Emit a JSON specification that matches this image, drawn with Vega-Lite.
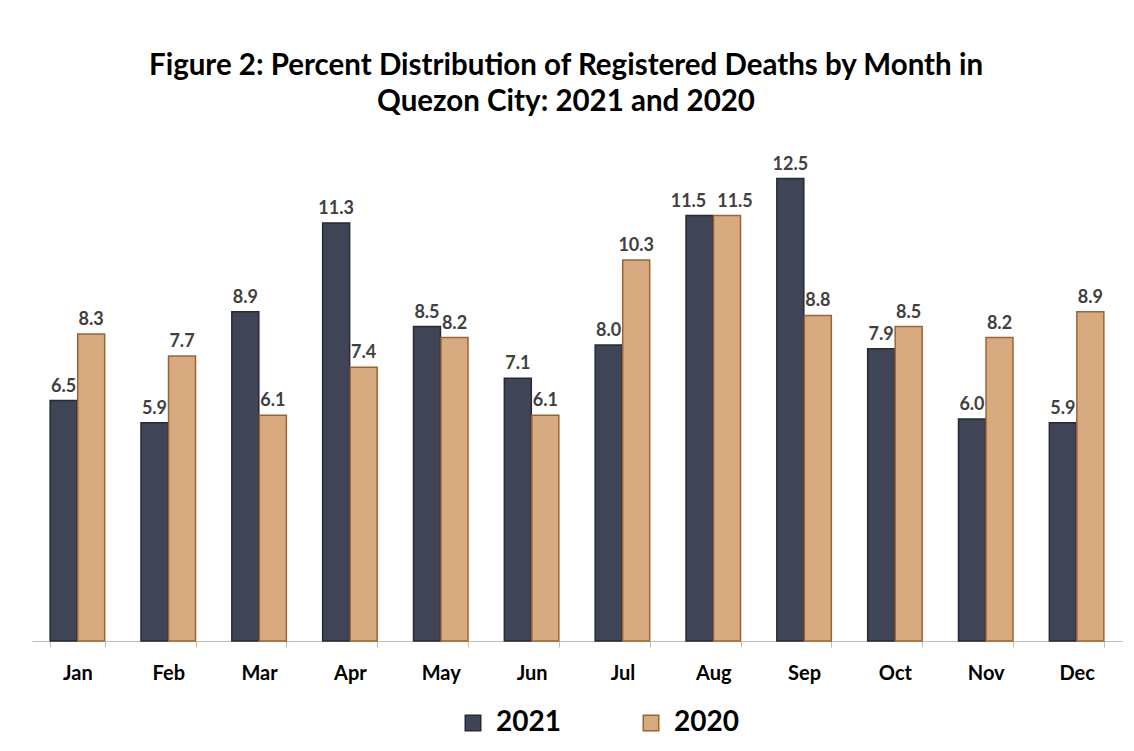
{
  "$schema": "https://vega.github.io/schema/vega-lite/v6.json",
  "width": 1090,
  "height": 518,
  "padding": {"left": 32, "top": 50, "right": 12, "bottom": 10},
  "background": "white",
  "config": {"view": {"stroke": null}},
  "title": {
    "text": ["Figure 2: Percent Distribution of Registered Deaths by Month in", "Quezon City: 2021 and 2020"],
    "font": "Lato",
    "fontSize": 29.5,
    "fontWeight": "bold",
    "color": "#000000",
    "lineHeight": 36,
    "anchor": "middle",
    "dx": -11,
    "offset": 6
  },
  "data": {
    "values": [
      {"month": "Jan", "year": "2021", "value": 6.5}, {"month": "Jan", "year": "2020", "value": 8.3},
      {"month": "Feb", "year": "2021", "value": 5.9}, {"month": "Feb", "year": "2020", "value": 7.7},
      {"month": "Mar", "year": "2021", "value": 8.9}, {"month": "Mar", "year": "2020", "value": 6.1},
      {"month": "Apr", "year": "2021", "value": 11.3}, {"month": "Apr", "year": "2020", "value": 7.4},
      {"month": "May", "year": "2021", "value": 8.5}, {"month": "May", "year": "2020", "value": 8.2},
      {"month": "Jun", "year": "2021", "value": 7.1}, {"month": "Jun", "year": "2020", "value": 6.1},
      {"month": "Jul", "year": "2021", "value": 8.0}, {"month": "Jul", "year": "2020", "value": 10.3},
      {"month": "Aug", "year": "2021", "value": 11.5}, {"month": "Aug", "year": "2020", "value": 11.5},
      {"month": "Sep", "year": "2021", "value": 12.5}, {"month": "Sep", "year": "2020", "value": 8.8},
      {"month": "Oct", "year": "2021", "value": 7.9}, {"month": "Oct", "year": "2020", "value": 8.5},
      {"month": "Nov", "year": "2021", "value": 6.0}, {"month": "Nov", "year": "2020", "value": 8.2},
      {"month": "Dec", "year": "2021", "value": 5.9}, {"month": "Dec", "year": "2020", "value": 8.9}
    ]
  },
  "encoding": {
    "x": {
      "field": "month",
      "type": "nominal",
      "sort": ["Jan","Feb","Mar","Apr","May","Jun","Jul","Aug","Sep","Oct","Nov","Dec"],
      "scale": {"paddingInner": 0.4, "paddingOuter": 0.2},
      "axis": {
        "title": null,
        "labelAngle": 0,
        "labelFont": "Lato",
        "labelFontSize": 20,
        "labelFontWeight": "bold",
        "labelColor": "#000000",
        "labelPadding": 16,
        "domainColor": "#bfbfbf",
        "tickColor": "#bfbfbf",
        "tickSize": 6,
        "tickBand": "extent"
      }
    },
    "xOffset": {"field": "year", "type": "nominal", "sort": ["2021", "2020"], "scale": {"paddingInner": 0.02}},
    "y": {
      "field": "value",
      "type": "quantitative",
      "scale": {"domain": [0, 14], "nice": false},
      "axis": null
    }
  },
  "layer": [
    {
      "mark": {"type": "bar", "strokeWidth": 1.5},
      "encoding": {
        "fill": {
          "field": "year",
          "type": "nominal",
          "sort": ["2021", "2020"],
          "scale": {"domain": ["2021", "2020"], "range": ["#404457", "#D8AA80"]},
          "legend": {
            "title": null,
            "orient": "none",
            "legendX": 427,
            "legendY": 586,
            "direction": "horizontal",
            "symbolType": "square",
            "symbolSize": 240,
            "symbolStrokeWidth": 1.5,
            "labelFont": "Lato",
            "labelFontSize": 28,
            "labelFontWeight": "bold",
            "labelColor": "#000000",
            "columnPadding": 76,
            "labelOffset": 9
          }
        },
        "stroke": {
          "field": "year",
          "type": "nominal",
          "sort": ["2021", "2020"],
          "scale": {"domain": ["2021", "2020"], "range": ["#262a36", "#9c6530"]}
        }
      }
    },
    {
      "transform": [{"filter": "datum.month !== 'Aug'"}],
      "mark": {"type": "text", "baseline": "bottom", "dy": -5, "font": "Lato", "fontSize": 18, "fontWeight": "bold", "color": "#404040"},
      "encoding": {
        "text": {"field": "value", "type": "quantitative", "format": ".1f"}
      }
    },
    {
      "transform": [{"filter": "datum.month === 'Aug' && datum.year === '2021'"}],
      "mark": {"type": "text", "baseline": "bottom", "dy": -5, "dx": -11, "font": "Lato", "fontSize": 18, "fontWeight": "bold", "color": "#404040"},
      "encoding": {
        "text": {"field": "value", "type": "quantitative", "format": ".1f"}
      }
    },
    {
      "transform": [{"filter": "datum.month === 'Aug' && datum.year === '2020'"}],
      "mark": {"type": "text", "baseline": "bottom", "dy": -5, "dx": 8, "font": "Lato", "fontSize": 18, "fontWeight": "bold", "color": "#404040"},
      "encoding": {
        "text": {"field": "value", "type": "quantitative", "format": ".1f"}
      }
    }
  ]
}
